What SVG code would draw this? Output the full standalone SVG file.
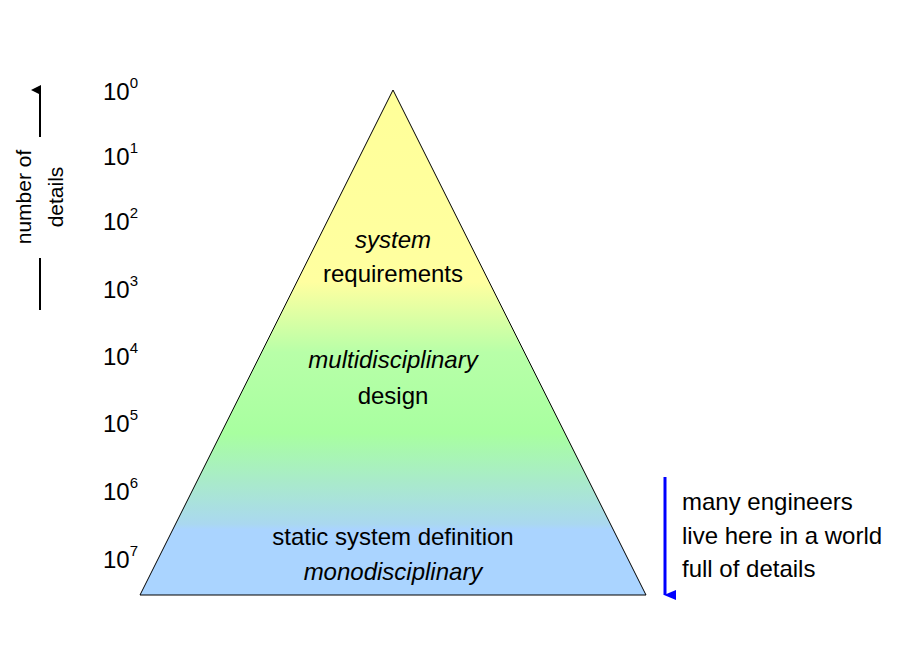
<svg xmlns="http://www.w3.org/2000/svg" width="920" height="660" viewBox="0 0 920 660">
<style>
text{font-family:"Liberation Sans",Arial,sans-serif;fill:#000}
.e{font-size:24px}
.s{font-size:15px}
.t{font-size:24px;text-anchor:middle}
.i{font-style:italic}
</style>
<defs>
<linearGradient id="g" x1="0" y1="90" x2="0" y2="595" gradientUnits="userSpaceOnUse">
<stop offset="0" stop-color="#ffff99"/>
<stop offset="0.38" stop-color="#ffffa0"/>
<stop offset="0.52" stop-color="#b8ffa8"/>
<stop offset="0.68" stop-color="#a8ffa0"/>
<stop offset="0.86" stop-color="#aad8f0"/>
<stop offset="0.87" stop-color="#aad4ff"/>
<stop offset="1" stop-color="#aad4ff"/>
</linearGradient>
<marker id="ak" markerWidth="10" markerHeight="10" refX="5" refY="9" orient="auto-start-reverse" markerUnits="userSpaceOnUse"><path d="M0,10 L5,0 L10,10 Z" fill="#000"/></marker>
<marker id="ab" markerWidth="10" markerHeight="12" refX="5" refY="11" orient="auto" markerUnits="userSpaceOnUse"><path d="M0,0 L5,12 L10,0 Z" fill="#0000ff"/></marker>
</defs>
<g id="pyramid">
<polygon points="393,90 646,595 140,595" fill="url(#g)" stroke="#000" stroke-width="1"/>
<text class="t i" x="393" y="248">system</text>
<text class="t" x="393" y="282">requirements</text>
<text class="t i" x="393" y="368">multidisciplinary</text>
<text class="t" x="393" y="404">design</text>
<text class="t" x="393" y="545">static system definition</text>
<text class="t i" x="393" y="580">monodisciplinary</text>
</g>
<g id="scale">
<text class="e" x="103" y="100">10<tspan class="s" dy="-12">0</tspan></text>
<text class="e" x="103" y="165">10<tspan class="s" dy="-12">1</tspan></text>
<text class="e" x="103" y="230">10<tspan class="s" dy="-12">2</tspan></text>
<text class="e" x="103" y="298">10<tspan class="s" dy="-12">3</tspan></text>
<text class="e" x="103" y="365">10<tspan class="s" dy="-12">4</tspan></text>
<text class="e" x="103" y="432">10<tspan class="s" dy="-12">5</tspan></text>
<text class="e" x="103" y="500">10<tspan class="s" dy="-12">6</tspan></text>
<text class="e" x="103" y="568">10<tspan class="s" dy="-12">7</tspan></text>
</g>
<g id="axis-label">
<text font-size="21" text-anchor="middle" transform="translate(31,197) rotate(-90)">number of</text>
<text font-size="21" text-anchor="middle" transform="translate(63,197) rotate(-90)">details</text>
</g>
<g id="note">
<text font-size="24" x="682" y="510">many engineers</text>
<text font-size="24" x="682" y="544">live here in a world</text>
<text font-size="24" x="682" y="577">full of details</text>
</g>
<g id="connectors">
<line x1="40" y1="310" x2="40" y2="258" stroke="#000" stroke-width="2"/>
<line x1="40" y1="137" x2="40" y2="90" stroke="#000" stroke-width="2" marker-end="url(#ak)"/>
<line x1="665" y1="477" x2="665" y2="595" stroke="#0000ff" stroke-width="3" marker-end="url(#ab)"/>
</g>
</svg>
